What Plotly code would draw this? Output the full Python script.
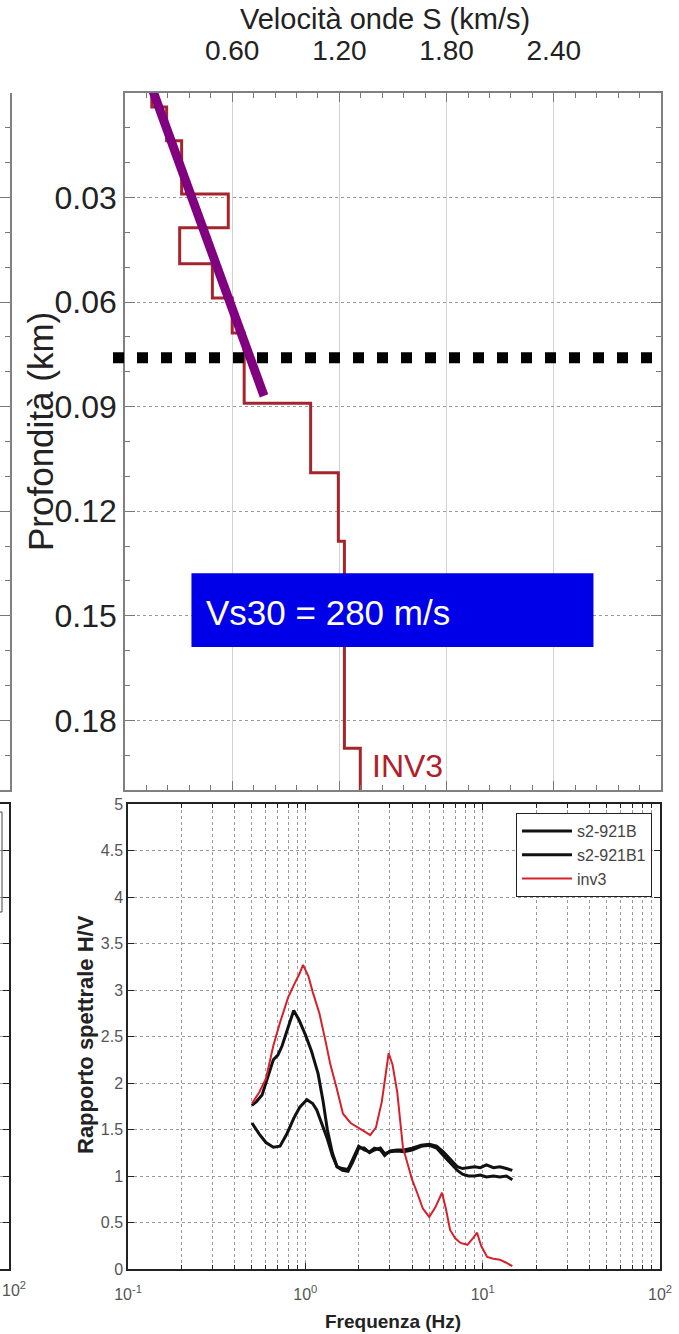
import plotly.graph_objects as go

W, H = 679, 1334
FONT = "Liberation Sans, Arial, sans-serif"

# ---------------- Top panel: shear-wave velocity profile ----------------
layer_top_km = [0.0, 0.004, 0.0137, 0.029, 0.0387, 0.049, 0.0588, 0.0689, 0.089, 0.109, 0.1286, 0.188]
layer_vs_kms = [0.15, 0.233, 0.317, 0.578, 0.306, 0.489, 0.600, 0.667, 1.039, 1.194, 1.228, 1.317]
profile_bottom_km = 0.2

vs_tickvals = [0.6, 1.2, 1.8, 2.4]
vs_ticktext = ["0.60", "1.20", "1.80", "2.40"]
depth_tickvals = [0.03, 0.06, 0.09, 0.12, 0.15, 0.18]
depth_ticktext = ["0.03", "0.06", "0.09", "0.12", "0.15", "0.18"]

trend_vs = [0.15, 0.778]
trend_depth = [-0.0015, 0.0869]
vs30_line_depth = 0.076
vs30_label = "Vs30 = 280 m/s"

# ---------------- Bottom panel: H/V spectral ratio ----------------
freq_b = [0.50, 0.53, 0.57, 0.62, 0.66, 0.70, 0.74, 0.80, 0.86, 0.92, 1.00, 1.08, 1.18, 1.26, 1.33,
          1.42, 1.51, 1.62, 1.74, 1.85, 2.00, 2.15, 2.30, 2.45, 2.65, 2.80, 3.00, 3.30, 3.60, 4.00,
          4.50, 5.00, 5.50, 6.00, 6.60, 7.20, 7.70, 8.30, 9.00, 9.70, 10.5, 11.5, 12.5, 13.6, 14.7]
hv_b = [1.76, 1.80, 1.87, 2.10, 2.25, 2.30, 2.40, 2.60, 2.78, 2.68, 2.52, 2.35, 2.10, 1.80, 1.50,
        1.25, 1.10, 1.06, 1.05, 1.15, 1.30, 1.30, 1.25, 1.28, 1.30, 1.24, 1.26, 1.27, 1.26, 1.28,
        1.32, 1.33, 1.30, 1.22, 1.14, 1.06, 1.02, 1.00, 1.00, 1.01, 0.99, 1.00, 0.99, 1.00, 0.96]

freq_b1 = [0.50, 0.55, 0.60, 0.66, 0.72, 0.79, 0.86, 0.93, 1.02, 1.10, 1.16, 1.25, 1.33, 1.42, 1.51,
           1.62, 1.74, 1.85, 2.00, 2.15, 2.30, 2.45, 2.65, 2.80, 3.00, 3.30, 3.60, 4.00, 4.50, 5.00,
           5.50, 6.00, 6.60, 7.20, 7.70, 8.30, 9.00, 9.70, 10.5, 11.5, 12.5, 13.6, 14.7]
hv_b1 = [1.57, 1.45, 1.36, 1.31, 1.32, 1.46, 1.62, 1.74, 1.82, 1.78, 1.71, 1.55, 1.40, 1.22, 1.10,
         1.08, 1.07, 1.18, 1.32, 1.28, 1.26, 1.30, 1.28, 1.22, 1.27, 1.28, 1.28, 1.30, 1.33, 1.34,
         1.32, 1.26, 1.18, 1.10, 1.08, 1.09, 1.10, 1.09, 1.12, 1.09, 1.10, 1.08, 1.06]

freq_inv3 = [0.50, 0.55, 0.60, 0.66, 0.72, 0.80, 0.86, 0.93, 0.97, 1.04, 1.10, 1.20, 1.30, 1.38, 1.50,
             1.63, 1.80, 1.96, 2.15, 2.32, 2.50, 2.70, 2.85, 2.95, 3.10, 3.30, 3.55, 3.80, 4.00, 4.27,
             4.60, 5.00, 5.40, 5.90, 6.20, 6.55, 7.00, 7.50, 8.20, 8.80, 9.30, 9.80, 10.6, 11.5, 12.5,
             13.5, 14.7]
hv_inv3 = [1.78, 1.90, 2.05, 2.40, 2.65, 2.92, 3.05, 3.18, 3.27, 3.15, 2.98, 2.75, 2.45, 2.21, 1.95,
           1.67, 1.57, 1.53, 1.48, 1.44, 1.52, 1.80, 2.15, 2.32, 2.20, 1.90, 1.31, 1.10, 0.96, 0.82,
           0.65, 0.56, 0.66, 0.82, 0.65, 0.42, 0.33, 0.28, 0.26, 0.33, 0.39, 0.25, 0.13, 0.11, 0.10,
           0.07, 0.03]

series_names = ["s2-921B", "s2-921B1", "inv3"]
freq_tickvals = [0.1, 1.0, 10.0, 100.0]
freq_ticktext = ["10<sup>-1</sup>", "10<sup>0</sup>", "10<sup>1</sup>", "10<sup>2</sup>"]
hv_tickvals = [0, 0.5, 1, 1.5, 2, 2.5, 3, 3.5, 4, 4.5, 5]
hv_ticktext = ["0", "0.5", "1", "1.5", "2", "2.5", "3", "3.5", "4", "4.5", "5"]

# ---------------- layout geometry (paper fractions) ----------------
def px_x(p):
    return p / W

def px_y(p):
    return 1 - p / H

top_dom_x = [px_x(125), px_x(661)]
top_dom_y = [px_y(790), px_y(93)]
bot_dom_x = [px_x(128), px_x(660)]
bot_dom_y = [px_y(1269), px_y(804)]

fig = go.Figure()

# profile
fig.add_trace(go.Scatter(
    x=layer_vs_kms + [layer_vs_kms[-1]],
    y=layer_top_km + [profile_bottom_km],
    mode="lines", line=dict(color="#a3262c", width=3, shape="vh"),
    xaxis="x", yaxis="y", showlegend=False, hoverinfo="skip"))

# H/V curves
fig.add_trace(go.Scatter(x=freq_b, y=hv_b, mode="lines", name=series_names[0],
                         line=dict(color="#111111", width=3), xaxis="x2", yaxis="y2"))
fig.add_trace(go.Scatter(x=freq_b1, y=hv_b1, mode="lines", name=series_names[1],
                         line=dict(color="#111111", width=3), xaxis="x2", yaxis="y2"))
fig.add_trace(go.Scatter(x=freq_inv3, y=hv_inv3, mode="lines", name=series_names[2],
                         line=dict(color="#d6202c", width=2), xaxis="x2", yaxis="y2"))

# neighbouring (cropped) panels
fig.add_trace(go.Scatter(x=[], y=[], xaxis="x3", yaxis="y3", showlegend=False))
fig.add_trace(go.Scatter(x=[], y=[], xaxis="x4", yaxis="y4", showlegend=False))

tick_font_top = dict(family=FONT, size=28, color="#222222")
tick_font_bot = dict(family=FONT, size=16, color="#555555")

fig.update_layout(
    width=W, height=H,
    margin=dict(l=0, r=0, t=0, b=0, autoexpand=False),
    paper_bgcolor="white", plot_bgcolor="white",
    font=dict(family=FONT),
    showlegend=True,
    legend=dict(x=px_x(652), y=px_y(813), xanchor="right", yanchor="top",
                bgcolor="white", bordercolor="#222222", borderwidth=1,
                font=dict(family=FONT, size=16, color="#444444"),
                itemwidth=50, tracegroupgap=0),
    xaxis=dict(domain=top_dom_x, anchor="y", side="top", range=[0, 3.0], automargin=False,
               tickmode="array", tickvals=vs_tickvals, ticktext=vs_ticktext,
               tickfont=tick_font_top, ticks="inside", ticklen=9, tickcolor="#777777",
               ticklabelstandoff=20,
               minor=dict(tickmode="linear", tick0=0, dtick=0.12, ticks="inside", ticklen=5,
                          tickcolor="#777777", showgrid=False),
               showline=True, linecolor="#808080", linewidth=1.5, mirror="ticks",
               showgrid=True, gridcolor="#d2d2d2", gridwidth=1, zeroline=False),
    yaxis=dict(domain=top_dom_y, anchor="x", range=[profile_bottom_km, 0], automargin=False,
               tickmode="array", tickvals=depth_tickvals, ticktext=depth_ticktext,
               tickfont=dict(family=FONT, size=32, color="#222222"),
               ticks="inside", ticklen=10, tickcolor="#777777",
               minor=dict(tickmode="linear", tick0=0, dtick=0.01, ticks="inside", ticklen=5,
                          tickcolor="#777777", showgrid=False),
               showline=True, linecolor="#808080", linewidth=1.5, mirror="ticks",
               showgrid=True, gridcolor="#9a9a9a", griddash="dot", gridwidth=1, zeroline=False),
    xaxis2=dict(domain=bot_dom_x, anchor="y2", type="log", range=[-1, 2], automargin=False,
                tickmode="array", tickvals=freq_tickvals, ticktext=freq_ticktext,
                tickfont=tick_font_bot, ticks="inside", ticklen=6, tickcolor="#222222",
                ticklabelstandoff=10,
                minor=dict(dtick="D1", ticks="inside", ticklen=4, tickcolor="#222222",
                           showgrid=True, gridcolor="#9a9a9a", griddash="dot", gridwidth=1),
                showline=True, linecolor="#222222", linewidth=1.5, mirror="ticks",
                showgrid=True, gridcolor="#9a9a9a", griddash="dot", gridwidth=1, zeroline=False),
    yaxis2=dict(domain=bot_dom_y, anchor="x2", range=[0, 5], automargin=False,
                tickmode="array", tickvals=hv_tickvals, ticktext=hv_ticktext,
                tickfont=tick_font_bot, ticks="inside", ticklen=6, tickcolor="#222222",
                showline=True, linecolor="#222222", linewidth=1.5, mirror="ticks",
                showgrid=True, gridcolor="#9a9a9a", griddash="dot", gridwidth=1, zeroline=False),
    xaxis3=dict(domain=[0, px_x(10)], anchor="y3", range=[0, 1], showticklabels=False,
                automargin=False, ticks="", showgrid=False, zeroline=False, showline=True,
                linecolor="#808080", linewidth=1.5),
    yaxis3=dict(domain=top_dom_y, anchor="x3", side="right", range=[profile_bottom_km, 0],
                automargin=False,
                tickmode="array", tickvals=depth_tickvals, showticklabels=False,
                ticks="inside", ticklen=10, tickcolor="#777777",
                minor=dict(tickmode="linear", tick0=0, dtick=0.01, ticks="inside", ticklen=5,
                           tickcolor="#777777"),
                showline=True, linecolor="#808080", linewidth=1.5,
                showgrid=True, gridcolor="#9a9a9a", griddash="dot", zeroline=False),
    xaxis4=dict(domain=[0, px_x(9)], anchor="y4", range=[0, 1], showticklabels=False,
                automargin=False, ticks="", showgrid=False, zeroline=False, showline=True,
                mirror=True, linecolor="#222222", linewidth=1.5),
    yaxis4=dict(domain=bot_dom_y, anchor="x4", side="right", range=[0, 5], automargin=False,
                tickmode="array", tickvals=hv_tickvals, showticklabels=False,
                ticks="inside", ticklen=6, tickcolor="#222222",
                showline=True, linecolor="#222222", linewidth=1.5,
                showgrid=True, gridcolor="#9a9a9a", griddash="dot", zeroline=False),
)

shapes = [
    # Vs30 box
    dict(type="rect", xref="x", yref="y", x0=0.372, x1=2.622, y0=0.1378, y1=0.159,
         fillcolor="#0000e8", line=dict(width=0), layer="above"),
    # trend line
    dict(type="line", xref="x", yref="y", x0=trend_vs[0], y0=trend_depth[0],
         x1=trend_vs[1], y1=trend_depth[1], line=dict(color="#800080", width=9), layer="above"),
    # 30 m depth dotted line
    dict(type="line", xref="paper", yref="y", x0=px_x(113), x1=px_x(656),
         y0=vs30_line_depth, y1=vs30_line_depth,
         line=dict(color="#000000", width=11, dash="11px,13px"), layer="above"),
    # cropped legend edge of neighbouring panel
    dict(type="rect", xref="paper", yref="paper", x0=-0.02, x1=px_x(2), y0=px_y(912), y1=px_y(812),
         line=dict(color="#444444", width=1), fillcolor="rgba(0,0,0,0)"),
]

C = dict(xanchor="center", yanchor="middle", showarrow=False, xref="paper", yref="paper")
annotations = [
    dict(text="Velocità onde S (km/s)", x=px_x(385), y=px_y(19),
         font=dict(family=FONT, size=29, color="#222222"), **C),
    dict(text="Profondità (km)", x=px_x(40), y=px_y(432), textangle=-90,
         font=dict(family=FONT, size=35, color="#222222"), **C),
    dict(text="INV3", xref="x", yref="y", x=1.37, y=0.1931, xanchor="left", yanchor="middle",
         showarrow=False, font=dict(family=FONT, size=32, color="#b0202a")),
    dict(text=vs30_label, xref="x", yref="y", x=0.444, y=0.1492, xanchor="left", yanchor="middle",
         showarrow=False, font=dict(family=FONT, size=35, color="white")),
    dict(text="<b>Frequenza (Hz)</b>", x=px_x(393), y=px_y(1321),
         font=dict(family=FONT, size=19, color="#222222"), **C),
    dict(text="<b>Rapporto spettrale H/V</b>", x=px_x(85), y=px_y(1035), textangle=-90,
         font=dict(family=FONT, size=22, color="#222222"), **C),
    dict(text="10<sup>2</sup>", x=0, y=px_y(1289), xanchor="left", yanchor="middle",
         showarrow=False, xref="paper", yref="paper",
         font=dict(family=FONT, size=16, color="#555555")),
]

fig.update_layout(shapes=shapes, annotations=annotations)
fig.write_html("out.html")
